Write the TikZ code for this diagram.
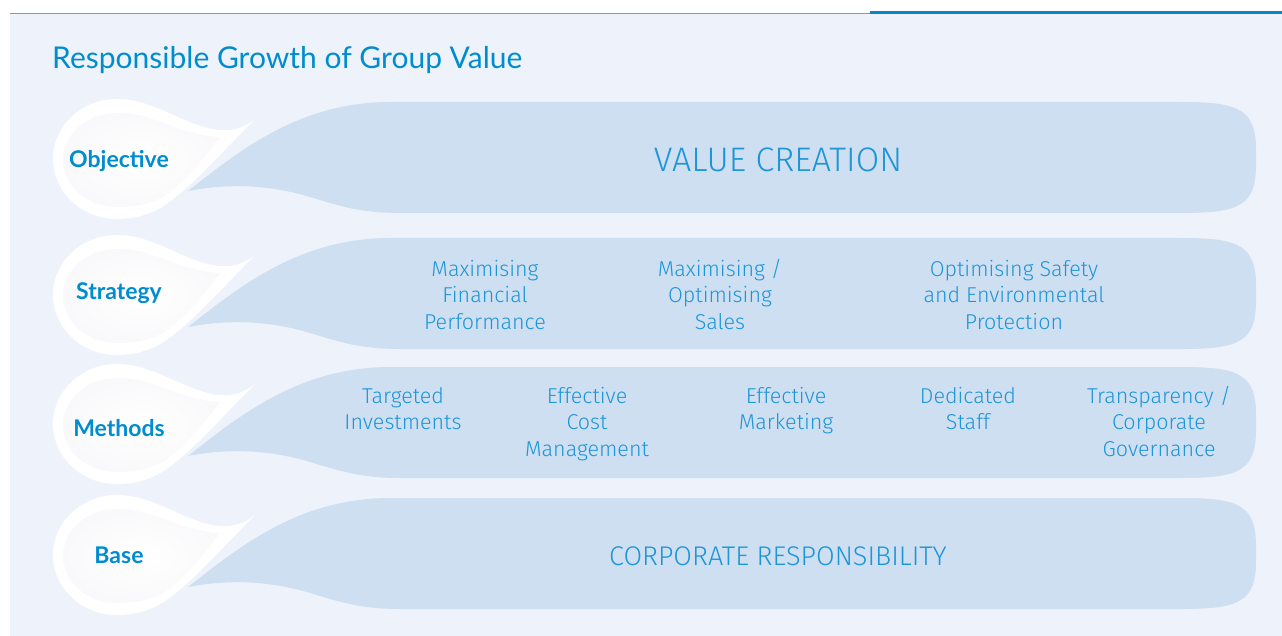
\documentclass[tikz,border=0pt]{standalone}
\usepackage{fontspec}
\IfFontExistsTF{Fira Sans Light}{\newfontfamily\lightf{Fira Sans Light}}{%
  \IfFontExistsTF{Open Sans Light}{\newfontfamily\lightf{Open Sans Light}}{\newfontfamily\lightf{Lato}}}
\newfontfamily\titlef{Lato}
\definecolor{panelbg}{RGB}{238,243,251}
\definecolor{bandfill}{RGB}{207,223,242}
\definecolor{titleblue}{RGB}{0,140,206}
\definecolor{textblue}{RGB}{28,150,214}
\definecolor{thinblue}{RGB}{90,170,220}
\definecolor{thickblue}{RGB}{10,134,200}
\definecolor{dropgrey}{RGB}{249,249,251}
\tikzset{
  bandtext/.style={font=\lightf\fontsize{21.5}{26.5}\selectfont, text=textblue, align=center, anchor=base, inner sep=0pt},
  bigtext/.style={font=\lightf\fontsize{34}{38}\selectfont, text=textblue, anchor=base, inner sep=0pt},
  midtext/.style={font=\lightf\fontsize{27}{30}\selectfont, text=textblue, anchor=base, inner sep=0pt},
  labeltext/.style={font=\titlef\bfseries\fontsize{23}{26}\selectfont, text=titleblue, anchor=base, inner sep=0pt},
  titletext/.style={font=\titlef\fontsize{30}{34}\selectfont, text=titleblue, anchor=base west, inner sep=0pt}
}
\newcommand\bandshape[1]{%
  \begin{scope}[shift={(0,#1)}]
    \fill[bandfill] (188,89) .. controls (240,48) and (300,0) .. (390,0) -- (1183,0)
      .. controls (1240,0) and (1256,8) .. (1256,48) -- (1256,63)
      .. controls (1256,103) and (1240,111) .. (1183,111) -- (400,111)
      .. controls (360,111) and (340,104) .. (310,95)
      .. controls (270,83) and (230,81) .. (188,89) -- cycle;
  \end{scope}}
\newcommand\dropshape[1]{%
  \begin{scope}[shift={(117,#1+58)}]
    \fill[white] (0,-61) .. controls (35,-61) and (62,-38) .. (95,-31)
      .. controls (115,-27) and (128,-33) .. (138,-41)
      .. controls (105,-8) and (72,30) .. (45,47)
      .. controls (30,56) and (15,59) .. (0,59)
      .. controls (-35.3,59) and (-64,32.1) .. (-64,-1)
      .. controls (-64,-34.1) and (-35.3,-61) .. (0,-61) -- cycle;
    \shade[inner color=white, outer color=dropgrey] (0,-47) .. controls (30,-47) and (50,-34) .. (73,-28)
      .. controls (85,-25) and (95,-23) .. (103,-23)
      .. controls (85,0) and (65,28) .. (40,40)
      .. controls (28,45) and (15,47) .. (0,47)
      .. controls (-29.8,47) and (-54,26) .. (-54,0)
      .. controls (-54,-26) and (-29.8,-47) .. (0,-47) -- cycle;
  \end{scope}}
\begin{document}
\begin{tikzpicture}[x=1pt,y=-1pt]
\useasboundingbox (0,0) rectangle (1282,636);
\fill[white] (0,0) rectangle (1282,636);
\fill[panelbg] (10,14) rectangle (1282,636);
\draw[thinblue, line width=1.2pt] (10,13.2) -- (870,13.2);
\draw[thickblue, line width=3pt] (870,13) -- (1282,13);
\node[titletext] (title) at (52,69) {Responsible Growth of Group Value};
% bands
\bandshape{102}
\bandshape{238}
\bandshape{367}
\bandshape{498}
\dropshape{102}
\dropshape{238}
\dropshape{367}
\dropshape{498}
% labels
\node[labeltext] (lobj) at (119,168) {Objective};
\node[labeltext] (lstr) at (119,300) {Strategy};
\node[labeltext] (lmet) at (119,436) {Methods};
\node[labeltext] (lbas) at (119,563) {Base};
% band texts (base anchor = baseline of last line)
\node[bigtext] (vc) at (778,172) {VALUE CREATION};
\node[bandtext] (s1) at (485,329) {Maximising\\Financial\\Performance};
\node[bandtext] (s2) at (720,329) {Maximising /\\Optimising\\Sales};
\node[bandtext] (s3) at (1014,329) {Optimising Safety\\and Environmental\\Protection};
\node[bandtext] (m1) at (403,429.5) {Targeted\\Investments};
\node[bandtext] (m2) at (587,456) {Effective\\Cost\\Management};
\node[bandtext] (m3) at (786,429.5) {Effective\\Marketing};
\node[bandtext] (m4) at (968,429.5) {Dedicated\\Staff};
\node[bandtext] (m5) at (1159,456) {Transparency /\\Corporate\\Governance};
\node[midtext] (cr) at (778,565) {CORPORATE RESPONSIBILITY};
\end{tikzpicture}
\end{document}
